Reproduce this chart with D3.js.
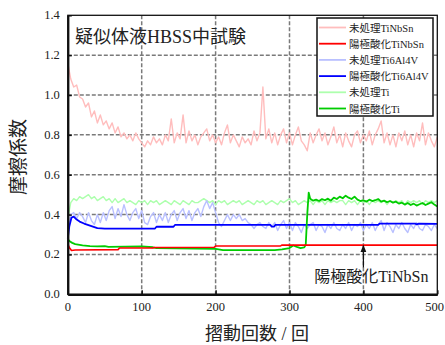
<!DOCTYPE html>
<html>
<head>
<meta charset="utf-8">
<script src="https://cdn.jsdelivr.net/npm/d3@7"></script>
<style>
  body { margin: 0; background: #fff; }
  svg { display: block; }
  text { font-family: "Liberation Serif", "Noto Sans CJK JP", serif; fill: #222; }
</style>
</head>
<body>
<div id="chart"></div>
<script>
// --- data ---
const xTicks = [0, 100, 200, 300, 400, 500];
const yTicks = [0.0, 0.2, 0.4, 0.6, 0.8, 1.0, 1.2, 1.4];
const seriesNames = ["未処理TiNbSn", "陽極酸化TiNbSn", "未処理Ti6Al4V", "陽極酸化Ti6Al4V", "未処理Ti", "陽極酸化Ti"];
const seriesColors = ["#ffbdbd", "#ff0000", "#b9c0ff", "#0000ff", "#adffad", "#00cc00"];

// sampled every 4 cycles (0..500)
const cycles4 = d3.range(0, 501, 4);

const rawTiNbSn = [
  1.16, 1.08, 1.04, 1.05, 0.99, 0.98, 0.94, 0.96, 0.89, 0.92, 0.86, 0.90, 0.85, 0.87, 0.83, 0.86,
  0.81, 0.84, 0.79, 0.81, 0.78, 0.80, 0.77, 0.81, 0.78, 0.76, 0.74, 0.77, 0.75, 0.79, 0.76, 0.78,
  0.75, 0.80, 0.77, 0.88, 0.76, 0.81, 0.78, 0.90, 0.76, 0.82, 0.77, 0.80, 0.75, 0.79, 0.81, 0.83,
  0.77, 0.80, 0.76, 0.79, 0.75, 0.81, 0.85, 0.76, 0.80, 0.77, 0.74, 0.79, 0.76, 0.78, 0.75, 0.82,
  0.77, 0.81, 1.04, 0.78, 0.83, 0.76, 0.81, 0.75, 0.80, 0.83, 0.76, 0.81, 0.75, 0.80, 0.84, 0.77,
  0.75, 0.72, 0.81, 0.76, 0.80, 0.83, 0.77, 0.81, 0.75, 0.79, 0.84, 0.76, 0.80, 0.74, 0.81, 0.77,
  0.74, 0.80, 0.82, 0.76, 0.80, 0.77, 0.82, 0.75, 0.80, 0.83, 0.87, 0.76, 0.81, 0.75, 0.80, 0.74,
  0.81, 0.77, 0.82, 0.75, 0.80, 0.74, 0.81, 0.77, 0.86, 0.75, 0.81, 0.77, 0.74, 0.79
];

const rawTi64 = [
  0.33, 0.40, 0.41, 0.38, 0.41, 0.39, 0.36, 0.41, 0.37, 0.35, 0.40, 0.36, 0.41, 0.37, 0.42, 0.44,
  0.38, 0.43, 0.39, 0.45, 0.40, 0.37, 0.41, 0.43, 0.38, 0.42, 0.36, 0.35, 0.39, 0.41, 0.36, 0.40,
  0.37, 0.41, 0.36, 0.40, 0.42, 0.37, 0.41, 0.43, 0.38, 0.42, 0.37, 0.41, 0.43, 0.39, 0.44, 0.47,
  0.43, 0.46, 0.41, 0.36, 0.34, 0.37, 0.40, 0.37, 0.40, 0.38, 0.40, 0.37, 0.38, 0.36, 0.35, 0.33,
  0.35, 0.36, 0.34, 0.33, 0.36, 0.34, 0.36, 0.32, 0.35, 0.37, 0.33, 0.36, 0.32, 0.36, 0.34, 0.31,
  0.35, 0.33, 0.35, 0.36, 0.32, 0.35, 0.34, 0.31, 0.35, 0.33, 0.36, 0.33, 0.32, 0.35, 0.33, 0.36,
  0.32, 0.35, 0.34, 0.36, 0.32, 0.35, 0.33, 0.36, 0.32, 0.35, 0.37, 0.32, 0.36, 0.34, 0.31, 0.35,
  0.33, 0.36, 0.33, 0.31, 0.35, 0.33, 0.36, 0.33, 0.32, 0.35, 0.34, 0.32, 0.35, 0.33
];

const rawTi = [
  0.38, 0.46, 0.48, 0.47, 0.49, 0.48, 0.49, 0.50, 0.48, 0.49, 0.47, 0.48, 0.49, 0.47, 0.48, 0.46,
  0.48, 0.46, 0.47, 0.48, 0.46, 0.47, 0.46, 0.45, 0.47, 0.46, 0.47, 0.45, 0.47, 0.46, 0.47, 0.45,
  0.46, 0.47, 0.46, 0.45, 0.47, 0.46, 0.45, 0.47, 0.46, 0.45, 0.47, 0.46, 0.46, 0.47, 0.48, 0.47,
  0.46, 0.47, 0.45, 0.47, 0.46, 0.47, 0.45, 0.46, 0.47, 0.46, 0.47, 0.45, 0.46, 0.47, 0.46, 0.45,
  0.47, 0.46, 0.47, 0.45, 0.46, 0.47, 0.46, 0.45, 0.47, 0.46, 0.47, 0.48, 0.46, 0.47, 0.45, 0.46,
  0.47, 0.46, 0.47, 0.45, 0.47, 0.46, 0.47, 0.45, 0.47, 0.46, 0.47, 0.46, 0.47, 0.47, 0.45, 0.47,
  0.46, 0.47, 0.45, 0.47, 0.46, 0.47, 0.45, 0.47, 0.46, 0.47, 0.46, 0.47, 0.45, 0.47, 0.46, 0.47,
  0.46, 0.47, 0.45, 0.47, 0.46, 0.47, 0.46, 0.47, 0.45, 0.47, 0.46, 0.47, 0.46, 0.47
];

// step-like anodized curves, explicit (cycle, value) pairs
const anoTiNbSnX = [0, 2, 5, 10, 68, 70, 115, 117, 198, 200, 288, 290, 500];
const anoTiNbSnY = [0.25, 0.235, 0.22, 0.222, 0.224, 0.232, 0.233, 0.235, 0.236, 0.242, 0.243, 0.247, 0.247];

const anoTi64X = [0, 2, 5, 8, 12, 16, 22, 30, 40, 50, 118, 120, 143, 145, 274, 276, 279, 281, 420, 422, 470, 472, 475, 500];
const anoTi64Y = [0.28, 0.34, 0.385, 0.39, 0.375, 0.365, 0.355, 0.345, 0.332, 0.33, 0.33, 0.339, 0.339, 0.348, 0.348, 0.34, 0.34, 0.348, 0.348, 0.355, 0.355, 0.351, 0.355, 0.353];

const anoTiX = [0, 3, 6, 10, 20, 30, 40, 50, 55, 100, 115, 120, 200, 210, 280, 290, 300, 305, 310, 315, 320, 322, 324,
  326, 328, 332, 336, 340, 344, 348, 352, 356, 360, 364, 368, 372, 376, 380, 384, 388, 392, 396, 400,
  404, 408, 412, 416, 420, 424, 428, 432, 436, 440, 444, 448, 452, 456, 460, 464, 468, 472, 476, 480,
  484, 488, 492, 496, 500];
const anoTiY = [0.275, 0.265, 0.258, 0.252, 0.246, 0.242, 0.24, 0.242, 0.238, 0.24, 0.236, 0.232, 0.228, 0.222, 0.222, 0.225, 0.232, 0.245, 0.238, 0.232, 0.235, 0.25, 0.40,
  0.51, 0.48, 0.47, 0.475, 0.468, 0.478, 0.472, 0.48, 0.47, 0.485, 0.478, 0.49, 0.482, 0.495, 0.485, 0.478, 0.49, 0.475, 0.468, 0.472,
  0.465, 0.475, 0.468, 0.472, 0.478, 0.465, 0.47, 0.462, 0.468, 0.46, 0.465, 0.455, 0.46, 0.45, 0.458, 0.448, 0.455, 0.445, 0.452, 0.458,
  0.448, 0.455, 0.462, 0.45, 0.44];

const seriesData = [
  d3.zip(cycles4, rawTiNbSn),
  d3.zip(anoTiNbSnX, anoTiNbSnY),
  d3.zip(cycles4, rawTi64),
  d3.zip(anoTi64X, anoTi64Y),
  d3.zip(cycles4, rawTi),
  d3.zip(anoTiX, anoTiY)
];
const drawOrder = [0, 4, 2, 3, 5, 1];
const lineWidths = [1.4, 1.6, 1.4, 1.8, 1.4, 1.8];

// --- layout ---
const width = 445, height = 345;
const margin = { top: 15.3, right: 7.7, bottom: 50.7, left: 67.8 };
const innerWidth = width - margin.left - margin.right;
const innerHeight = height - margin.top - margin.bottom;

const svg = d3.select("#chart")
  .append("svg")
  .attr("width", width)
  .attr("height", height);

const inner = svg.append("g")
  .attr("transform", `translate(${margin.left},${margin.top})`);

// scales map straight to page pixels so labels can sit at the svg level
const xScale = d3.scaleLinear().domain([0, 500]).range([margin.left, margin.left + innerWidth]);
const yScale = d3.scaleLinear().domain([0, 1.4]).range([margin.top + innerHeight, margin.top]);

// grid
svg.append("g")
  .selectAll("line")
  .data(yTicks.slice(1, -1))
  .join("line")
  .attr("x1", xScale(0)).attr("x2", xScale(500))
  .attr("y1", d => yScale(d)).attr("y2", d => yScale(d))
  .attr("stroke", "#7a7a7a").attr("stroke-width", 1.5).attr("stroke-dasharray", "4,2");

svg.append("g")
  .selectAll("line")
  .data(xTicks.slice(1, -1))
  .join("line")
  .attr("y1", yScale(1.4)).attr("y2", yScale(0))
  .attr("x1", d => xScale(d)).attr("x2", d => xScale(d))
  .attr("stroke", "#7a7a7a").attr("stroke-width", 1.5).attr("stroke-dasharray", "4,2");

// series lines
const line = d3.line().x(d => xScale(d[0])).y(d => yScale(d[1]));
drawOrder.forEach(i => {
  svg.append("path")
    .datum(seriesData[i])
    .attr("fill", "none")
    .attr("stroke", seriesColors[i])
    .attr("stroke-width", lineWidths[i])
    .attr("stroke-linejoin", "round")
    .attr("d", line);
});

// frame
svg.append("rect")
  .attr("x", margin.left).attr("y", margin.top)
  .attr("width", innerWidth).attr("height", innerHeight)
  .attr("fill", "none").attr("stroke", "#111").attr("stroke-width", 1.3);

// axes: ticks pointing inward, labels drawn separately
const xAxis = svg.append("g")
  .attr("transform", `translate(0,${yScale(0)})`)
  .call(d3.axisBottom(xScale).tickValues(xTicks).tickSizeInner(-4).tickSizeOuter(0).tickFormat(""));
const yAxis = svg.append("g")
  .attr("transform", `translate(${xScale(0)},0)`)
  .call(d3.axisLeft(yScale).tickValues(yTicks).tickSizeInner(-4).tickSizeOuter(0).tickFormat(""));
[xAxis, yAxis].forEach(ax => {
  ax.select(".domain").attr("stroke", "#111").attr("stroke-width", 2.2);
  ax.selectAll(".tick line").attr("stroke", "#111").attr("stroke-width", 1.5);
  ax.selectAll(".tick text").remove();
});

svg.append("g")
  .selectAll("text")
  .data(xTicks)
  .join("text")
  .attr("x", d => d === 500 ? width - 1 : xScale(d))
  .attr("y", yScale(0) + 17)
  .attr("text-anchor", d => d === 500 ? "end" : "middle")
  .style("font-size", "12.5px")
  .text(d => d);

svg.append("g")
  .selectAll("text")
  .data(yTicks)
  .join("text")
  .attr("x", xScale(0) - 8)
  .attr("y", d => yScale(d) + 4)
  .attr("text-anchor", "end")
  .style("font-size", "12.5px")
  .text(d3.format(".1f"));

// axis labels
svg.append("text")
  .attr("x", 257).attr("y", 340)
  .attr("text-anchor", "middle")
  .style("font-size", "18px")
  .text("摺動回数 / 回");

svg.append("text")
  .attr("x", 25).attr("y", 157)
  .attr("transform", "rotate(-90 25 157)")
  .attr("text-anchor", "middle")
  .style("font-size", "19px")
  .text("摩擦係数");

// title
svg.append("text")
  .attr("x", 75).attr("y", 43)
  .style("font-size", "18px")
  .text("疑似体液HBSS中試験");

// annotation arrow
svg.append("defs").append("marker")
  .attr("id", "arrowhead")
  .attr("viewBox", "0 0 10 10")
  .attr("refX", 9).attr("refY", 5)
  .attr("markerWidth", 6).attr("markerHeight", 6)
  .attr("orient", "auto")
  .append("path").attr("d", "M0,1 L10,5 L0,9 Z").attr("fill", "#111");

svg.append("line")
  .attr("x1", xScale(400)).attr("x2", xScale(400))
  .attr("y1", yScale(0.135)).attr("y2", yScale(0.245))
  .attr("stroke", "#111").attr("stroke-width", 1.2)
  .attr("marker-end", "url(#arrowhead)");

svg.append("text")
  .attr("x", xScale(400) + 8).attr("y", yScale(0.06))
  .attr("text-anchor", "middle")
  .style("font-size", "16px")
  .text("陽極酸化TiNbSn");

// legend
const legendX = 317, legendY = 18;
svg.append("rect")
  .attr("x", legendX).attr("y", legendY)
  .attr("width", 116).attr("height", 98)
  .attr("fill", "#fff").attr("stroke", "#111").attr("stroke-width", 1.5);
seriesNames.forEach((name, i) => {
  const rowY = legendY + 9.5 + i * 16.2;
  svg.append("line")
    .attr("x1", legendX + 2).attr("x2", legendX + 29)
    .attr("y1", rowY).attr("y2", rowY)
    .attr("stroke", seriesColors[i]).attr("stroke-width", 1.8);
  svg.append("text")
    .attr("x", legendX + 32).attr("y", rowY + 4)
    .style("font-size", "10.5px")
    .attr("fill", "#333")
    .text(name);
});
</script>
</body>
</html>
